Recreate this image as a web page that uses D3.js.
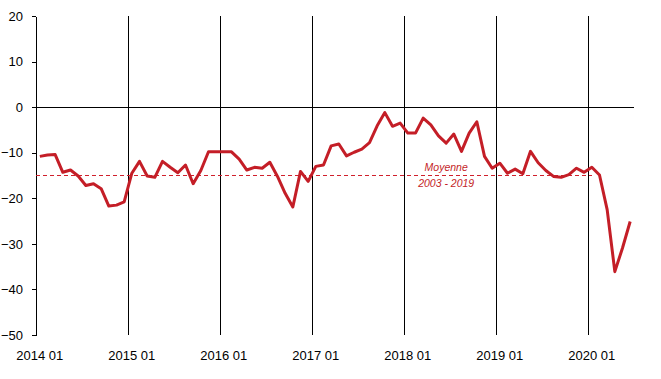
<!DOCTYPE html>
<html>
<head>
<meta charset="utf-8">
<script src="https://cdn.jsdelivr.net/npm/d3@7"></script>
<style>
  body { margin: 0; background: #fff; }
  svg text { font-family: "Liberation Sans", Arial, sans-serif; }
</style>
</head>
<body>
<div id="chart"></div>
<script>
// monthly series, 2014 01 .. 2020 06
const firstMonth = new Date(2014, 0, 1);
const lastMonth = new Date(2020, 6, 1);
const months = d3.timeMonth.range(firstMonth, lastMonth).map(d3.timeFormat("%Y %m"));

const values = [
  -10.8, -10.5, -10.4, -14.3, -13.8, -15.1, -17.2, -16.8, -17.9, -21.7, -21.5, -20.8,
  -14.5, -11.9, -15.1, -15.4, -11.9, -13.2, -14.4, -12.7, -16.8, -13.9, -9.8, -9.8,
  -9.8, -9.8, -11.4, -13.8, -13.2, -13.4, -12.1, -15.2, -18.9, -21.9, -14.1, -16.3,
  -13.0, -12.7, -8.5, -8.1, -10.7, -9.9, -9.2, -7.8, -4.1, -1.2, -4.2, -3.5,
  -5.7, -5.7, -2.4, -3.9, -6.3, -7.9, -5.9, -9.7, -5.7, -3.2, -10.8, -13.4,
  -12.3, -14.5, -13.6, -14.6, -9.7, -12.2, -13.9, -15.2, -15.4, -14.8, -13.4, -14.3,
  -13.2, -14.9, -22.5, -36.1, -30.9, -25.1
];

const yearTicks = ["2014 01", "2015 01", "2016 01", "2017 01", "2018 01", "2019 01", "2020 01"];
const yTicks = [20, 10, 0, -10, -20, -30, -40, -50];

const meanValue = -15;
const meanLabel = ["Moyenne", "2003 - 2019"];
const meanEnd = "2020 01";
const meanLabelAt = "2018 06";

const svgWidth = 661, svgHeight = 379;
const margin = { left: 36, right: 634, top: 16, bottom: 335 };
const red = "#c41e27";

const svg = d3.select("#chart").append("svg")
    .attr("width", svgWidth)
    .attr("height", svgHeight);

const x = d3.scaleBand()
    .domain(months)
    .range([margin.left, margin.right])
    .padding(0);

const y = d3.scaleLinear()
    .domain([-50, 20])
    .range([margin.bottom, margin.top]);

// year separators
svg.selectAll(".yearLine")
    .data(yearTicks.slice(1))
    .join("line")
    .attr("class", "yearLine")
    .attr("x1", d => x(d))
    .attr("x2", d => x(d))
    .attr("y1", margin.top)
    .attr("y2", margin.bottom)
    .attr("stroke", "#000")
    .attr("stroke-width", 1)
    .attr("shape-rendering", "crispEdges");

// zero line
svg.append("line")
    .attr("x1", margin.left)
    .attr("x2", margin.right)
    .attr("y1", y(0))
    .attr("y2", y(0))
    .attr("stroke", "#000")
    .attr("shape-rendering", "crispEdges");

// y axis
const yAxis = svg.append("g")
    .attr("transform", `translate(${margin.left},0)`)
    .call(d3.axisLeft(y).tickValues(yTicks).tickSize(4).tickSizeOuter(0).tickPadding(9));
yAxis.select(".domain").attr("stroke", "#000").attr("shape-rendering", "crispEdges");
yAxis.selectAll(".tick line").attr("stroke", "#000").attr("shape-rendering", "crispEdges");
yAxis.selectAll("text")
    .attr("font-size", 13)
    .attr("font-family", "Liberation Sans, Arial, sans-serif")
    .attr("fill", "#000");

// x labels
svg.selectAll(".xLabel")
    .data(yearTicks)
    .join("text")
    .attr("class", "xLabel")
    .attr("x", d => x(d) + x.bandwidth() / 2)
    .attr("y", 360)
    .attr("text-anchor", "middle")
    .attr("font-size", 13)
    .attr("fill", "#000")
    .text(d => d);

// average line
const meanY = Math.floor(y(meanValue)) + 0.5;
svg.append("line")
    .attr("x1", margin.left)
    .attr("x2", x(meanEnd) + x.bandwidth() / 2)
    .attr("y1", meanY)
    .attr("y2", meanY)
    .attr("stroke", "#d0202c")
    .attr("stroke-width", 1)
    .attr("stroke-dasharray", "4,3")
    .attr("shape-rendering", "crispEdges");

svg.selectAll(".meanLabel")
    .data(meanLabel)
    .join("text")
    .attr("class", "meanLabel")
    .attr("x", x(meanLabelAt) + x.bandwidth() / 2)
    .attr("y", (d, i) => i == 0 ? meanY - 4.5 : meanY + 11)
    .attr("text-anchor", "middle")
    .attr("font-size", 10.5)
    .attr("font-style", "italic")
    .attr("fill", red)
    .text(d => d);

// series
svg.append("path")
    .datum(values)
    .attr("fill", "none")
    .attr("stroke", red)
    .attr("stroke-width", 3)
    .attr("stroke-linejoin", "round")
    .attr("d", d3.line()
        .x((d, i) => x(months[i]) + x.bandwidth() / 2)
        .y(d => y(d))
    );
</script>
</body>
</html>
